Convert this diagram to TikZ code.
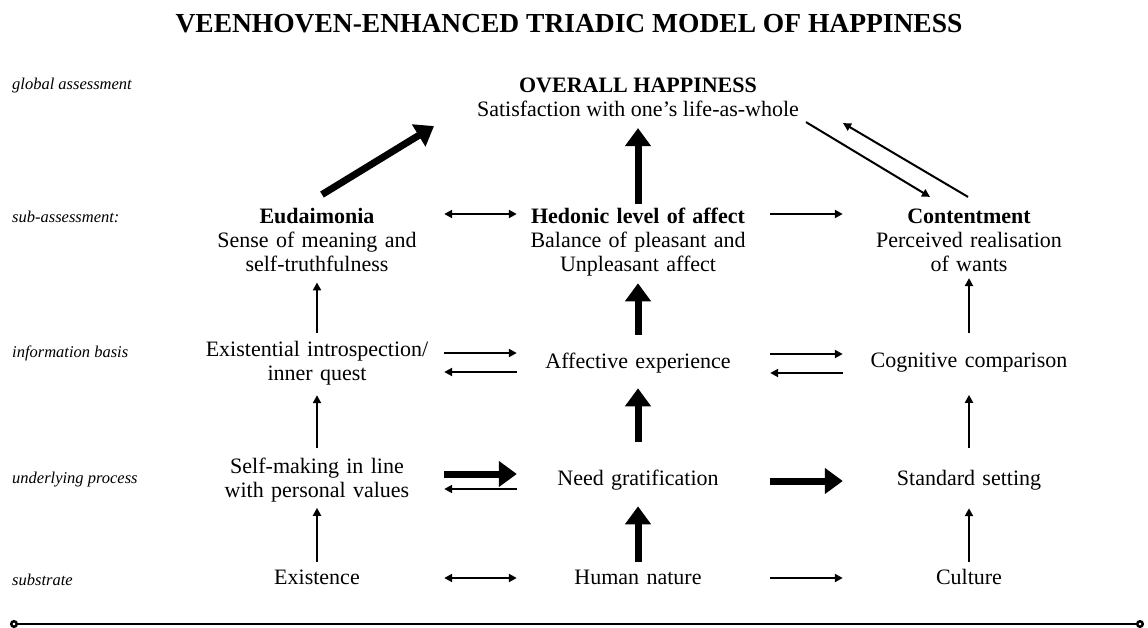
\documentclass[tikz,border=0pt]{standalone}
\usepackage{fontspec}
\setmainfont{Liberation Serif}
\usetikzlibrary{arrows.meta}

\tikzset{
    tier/.style={anchor=base west, inner sep=0pt, font=\fontsize{16.5}{19}\selectfont\itshape},
    cell/.style={inner sep=0pt, text width=240pt, align=center, font=\fontsize{22}{24}\selectfont},
    thinarr/.style={line width=2pt, -{Triangle[length=8pt,width=8pt]}},
    thinback/.style={line width=2pt, {Triangle[length=8pt,width=8pt]}-},
    bothway/.style={line width=2pt, {Triangle[length=8pt,width=8pt]}-{Triangle[length=8pt,width=8pt]}},
    thickarr/.style={line width=7pt, -{Triangle[length=18pt,width=25pt]}},
    lgap/.style={shorten <=7pt, shorten >=1pt},
    rgap/.style={shorten <=12pt, shorten >=6pt}
}

\begin{document}
\begin{tikzpicture}[x=1pt, y=-1pt]
    \useasboundingbox (0,0) rectangle (1148,628);

    % Title
    \node[anchor=base, inner sep=0pt, font=\fontsize{27.5}{30}\selectfont\bfseries] (title) at (569,33) {VEENHOVEN-ENHANCED TRIADIC MODEL OF HAPPINESS};

    % Level labels down the left side
    \foreach \name/\y/\txt in {lglobal/90/global assessment, lsub/223/sub-assessment:, linfo/357/information basis, lproc/483/underlying process, lsubst/585/substrate} {
        \node[tier] (\name) at (12,\y) {\txt};
    }

    % Global assessment
    \node[inner sep=0pt, align=center, font=\fontsize{22}{24}\selectfont] (over) at (638,97) {\textbf{OVERALL HAPPINESS}\\Satisfaction with one's life-as-whole};

    % Sub-assessment
    \node[cell] (eud) at (317,240) {\textbf{Eudaimonia}\\Sense of meaning and\\self-truthfulness};
    \node[cell] (hed) at (638,242) {\textbf{Hedonic level of affect}\\Balance of pleasant and\\Unpleasant affect};
    \node[cell] (cont) at (969,240) {\textbf{Contentment}\\Perceived realisation\\of wants};

    % Information basis
    \node[cell] (intro) at (317,363) {Existential introspection/\\inner quest};
    \node[cell] (affect) at (638,363) {Affective experience};
    \node[cell] (cogn) at (969,363) {Cognitive comparison};

    % Underlying process
    \node[cell] (selfm) at (317,480) {Self-making in line\\with personal values};
    \node[cell] (need) at (638,480) {Need gratification};
    \node[cell] (stand) at (969,480) {Standard setting};

    % Substrate
    \node[cell] (exist) at (317,577) {Existence};
    \node[cell] (human) at (638,577) {Human nature};
    \node[cell] (cult) at (969,577) {Culture};

    % Upward arrows
    \draw[thinarr, shorten <=7.5pt, shorten >=5.5pt] (exist) -- (selfm);
    \draw[thickarr, shorten <=7.5pt, shorten >=16pt] (human) -- (need);
    \draw[thinarr, shorten <=7.5pt, shorten >=18pt] (cult) -- (stand);
    \draw[thinarr, shorten <=9.5pt, shorten >=10pt] (selfm) -- (intro);
    \draw[thickarr, shorten <=28pt, shorten >=15pt] (need) -- (affect);
    \draw[thinarr, shorten <=22pt, shorten >=22pt] (stand) -- (cogn);
    \draw[thinarr, shorten <=8pt, shorten >=10.5pt] (intro) -- (eud);
    \draw[thickarr, shorten <=18pt, shorten >=7pt] (affect) -- (hed);
    \draw[thinarr, shorten <=20pt, shorten >=6.5pt] (cogn) -- (cont);
    \draw[thickarr, shorten <=4pt, shorten >=11.5pt] (hed) -- (over);

    % Diagonal arrows to and from the top
    \draw[thickarr] ([shift={(5,-13.5)}]eud.north) -- ([shift={(-204,9.5)}]over.south);
    \draw[thinarr] ([shift={(168,5.5)}]over.south) -- ([shift={(-39,-11.5)}]cont.north);
    \draw[thinarr] ([shift={(-1,-11.5)}]cont.north) -- ([shift={(205,6.5)}]over.south);

    % Sideways arrows
    \draw[bothway, lgap] ([yshift=26pt]eud.east) -- ([yshift=26pt]eud.east -| hed.west);
    \draw[thinarr, rgap] ([yshift=26pt]eud.east -| hed.east) -- ([yshift=26pt]cont.west);
    \draw[thinarr, lgap] ([yshift=10pt]intro.east) -- ([yshift=10pt]affect.west);
    \draw[thinback, lgap] ([yshift=-9pt]intro.east) -- ([yshift=-9pt]affect.west);
    \draw[thinarr, rgap] ([yshift=9pt]affect.east) -- ([yshift=9pt]cogn.west);
    \draw[thinback, rgap] ([yshift=-10pt]affect.east) -- ([yshift=-10pt]cogn.west);
    \draw[thickarr, lgap] ([yshift=6pt]selfm.east) -- ([yshift=6pt]need.west);
    \draw[thinback, lgap] ([yshift=-9pt]selfm.east) -- ([yshift=-9pt]need.west);
    \draw[thickarr, rgap] ([yshift=-1pt]need.east) -- ([yshift=-1pt]stand.west);
    \draw[bothway, lgap] ([yshift=-1pt]exist.east) -- ([yshift=-1pt]human.west);
    \draw[thinarr, rgap] ([yshift=-1pt]human.east) -- ([yshift=-1pt]cult.west);

    % Base line
    \coordinate (axisL) at (10,624);
    \coordinate (axisR) at (1144,624);
    \draw[line width=2.5pt, {Circle[open,length=8pt]}-{Circle[open,length=8pt]}] (axisL) -- (axisR);
\end{tikzpicture}
\end{document}
